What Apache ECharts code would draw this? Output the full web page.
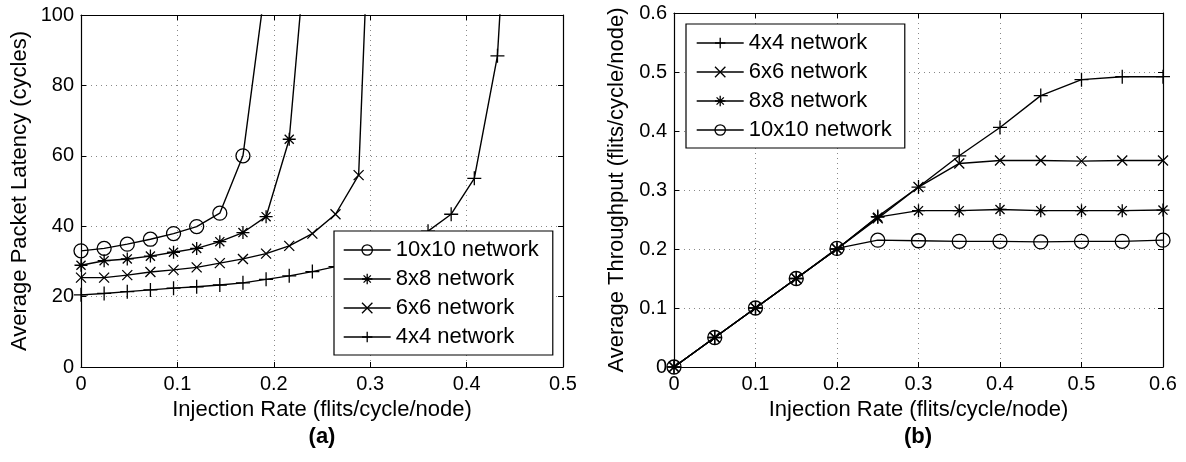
<!DOCTYPE html>
<html>
<head>
<meta charset="utf-8">
<script src="https://cdn.jsdelivr.net/npm/echarts@6/dist/echarts.min.js"></script>
<style>
  html, body { margin: 0; padding: 0; background: #fff; }
  #chart { width: 1186px; height: 462px; }
</style>
</head>
<body>
<div id="chart"></div>
<script>
// (a) latency vs injection rate
var rateA = [0, 0.024, 0.048, 0.072, 0.096, 0.12, 0.144, 0.168, 0.192, 0.216,
  0.24, 0.264, 0.288, 0.312, 0.336, 0.36, 0.384, 0.408, 0.432, 0.456];
var lat10 = [33.0, 33.7, 34.9, 36.3, 37.9, 39.9, 43.7, 60.0, 110];
var lat8 = [28.9, 30.2, 30.7, 31.5, 32.6, 33.7, 35.6, 38.2, 42.7, 64.7, 140];
var lat6 = [25.4, 25.4, 26.1, 27.0, 27.6, 28.3, 29.5, 30.7, 32.2, 34.4, 37.9, 43.4, 54.5, 220];
var lat4 = [20.5, 20.9, 21.4, 21.9, 22.4, 22.8, 23.3, 23.9, 24.9, 25.9, 27.1, 28.5, 30.2,
  32.3, 35.0, 38.6, 43.4, 53.6, 88.4, 200];

// (b) throughput vs injection rate
var rateB = [0, 0.05, 0.1, 0.15, 0.2, 0.25, 0.3, 0.35, 0.4, 0.45, 0.5, 0.55, 0.6];
var thr4 = [0, 0.05, 0.1, 0.15, 0.2, 0.255, 0.305, 0.358, 0.406, 0.46, 0.487, 0.492, 0.492];
var thr6 = [0, 0.05, 0.1, 0.15, 0.2, 0.252, 0.305, 0.345, 0.35, 0.35, 0.349, 0.35, 0.35];
var thr8 = [0, 0.05, 0.1, 0.15, 0.2, 0.254, 0.265, 0.265, 0.267, 0.265, 0.265, 0.265, 0.266];
var thr10 = [0, 0.05, 0.1, 0.15, 0.201, 0.215, 0.214, 0.213, 0.213, 0.212, 0.213, 0.213, 0.215];

var names = ["4x4 network", "6x6 network", "8x8 network", "10x10 network"];

var FONT = "Liberation Sans";
var PLUS = "path://M5,0L5,10M0,5L10,5";
var CROSS = "path://M0,0L10,10M10,0L0,10";
var STAR = "path://M5,0L5,10M0,5L10,5M1.5,1.5L8.5,8.5M8.5,1.5L1.5,8.5";

function pairs(xs, ys) {
  return ys.map(function (y, i) { return [xs[i], y]; });
}

function mkSeries(name, symbol, size, gridIdx, data) {
  return {
    name: name,
    type: "line",
    xAxisIndex: gridIdx * 2,
    yAxisIndex: gridIdx * 2,
    data: data,
    symbol: symbol,
    symbolSize: size,
    showAllSymbol: true,
    animation: false,
    lineStyle: { color: "#000", width: 1.4 },
    itemStyle: { color: "transparent", borderColor: "#000", borderWidth: 1.3 },
    emphasis: { disabled: true },
  };
}

function valAxis(gridIdx, pos, min, max, step, main) {
  return {
    type: "value",
    gridIndex: gridIdx,
    position: pos,
    min: min,
    max: max,
    interval: step,
    axisLine: { show: true, onZero: false, lineStyle: { color: "#000", width: 1.2 } },
    axisTick: { show: true, inside: true, length: 5, lineStyle: { color: "#000" } },
    axisLabel: {
      show: main,
      color: "#000",
      fontSize: 20,
      fontFamily: FONT,
      margin: 7,
    },
    splitLine: {
      show: main,
      lineStyle: { color: "#888", type: [1, 4], width: 1 },
    },
  };
}

var chart = echarts.init(document.getElementById("chart"));

var xa0 = valAxis(0, "bottom", 0, 0.5, 0.1, true);
xa0.name = "Injection Rate (flits/cycle/node)";
var ya0 = valAxis(0, "left", 0, 100, 20, true);
ya0.name = "Average Packet Latency (cycles)";
var xa1 = valAxis(1, "bottom", 0, 0.6, 0.1, true);
xa1.name = "Injection Rate (flits/cycle/node)";
var ya1 = valAxis(1, "left", 0, 0.6, 0.1, true);
ya1.name = "Average Throughput (flits/cycle/node)";
[xa0, xa1].forEach(function (a) {
  a.nameLocation = "middle";
  a.nameGap = 30;
  a.nameTextStyle = { color: "#000", fontSize: 22, fontFamily: FONT };
});
ya0.nameLocation = "middle";
ya0.nameGap = 50;
ya1.nameLocation = "middle";
ya1.nameGap = 46;
[ya0, ya1].forEach(function (a) {
  a.nameTextStyle = { color: "#000", fontSize: 22, fontFamily: FONT };
});

var legendBase = {
  orient: "vertical",
  itemWidth: 47,
  itemHeight: 13,
  itemGap: 7,
  backgroundColor: "#fff",
  borderColor: "#000",
  borderWidth: 1.2,
  borderRadius: 0,
  selectedMode: false,
  textStyle: { color: "#000", fontSize: 22, fontFamily: FONT },
  itemStyle: { color: "transparent", borderColor: "#000", borderWidth: 1.3 },
  lineStyle: { color: "#000", width: 1.4 },
};

var option = {
  animation: false,
  backgroundColor: "#fff",
  grid: [
    { left: 81, top: 15, width: 482, height: 352 },
    { left: 674, top: 13, width: 489, height: 354 },
  ],
  xAxis: [
    xa0,
    valAxis(0, "top", 0, 0.5, 0.1, false),
    xa1,
    valAxis(1, "top", 0, 0.6, 0.1, false),
  ],
  yAxis: [
    ya0,
    valAxis(0, "right", 0, 100, 20, false),
    ya1,
    valAxis(1, "right", 0, 0.6, 0.1, false),
  ],
  legend: [
    Object.assign({}, legendBase, {
      left: 334,
      top: 231,
      padding: [8, 14, 7, 9],
      data: [names[3], names[2], names[1], names[0]],
    }),
    Object.assign({}, legendBase, {
      left: 686,
      top: 24,
      padding: [8, 13, 7, 10],
      data: [names[0], names[1], names[2], names[3]],
    }),
  ],
  graphic: [
    {
      type: "text", x: 322, y: 437,
      style: { text: "(a)", align: "center", verticalAlign: "middle", fill: "#000",
        font: "bold 22px " + FONT },
    },
    {
      type: "text", x: 918, y: 437,
      style: { text: "(b)", align: "center", verticalAlign: "middle", fill: "#000",
        font: "bold 22px " + FONT },
    },
  ],
  series: [
    mkSeries(names[3], "circle", 14, 0, pairs(rateA, lat10)),
    mkSeries(names[2], STAR, 13, 0, pairs(rateA, lat8)),
    mkSeries(names[1], CROSS, 10, 0, pairs(rateA, lat6)),
    mkSeries(names[0], PLUS, 14, 0, pairs(rateA, lat4)),
    mkSeries(names[0], PLUS, 14, 1, pairs(rateB, thr4)),
    mkSeries(names[1], CROSS, 10, 1, pairs(rateB, thr6)),
    mkSeries(names[2], STAR, 13, 1, pairs(rateB, thr8)),
    mkSeries(names[3], "circle", 14, 1, pairs(rateB, thr10)),
  ],
};

chart.setOption(option);
</script>
</body>
</html>
